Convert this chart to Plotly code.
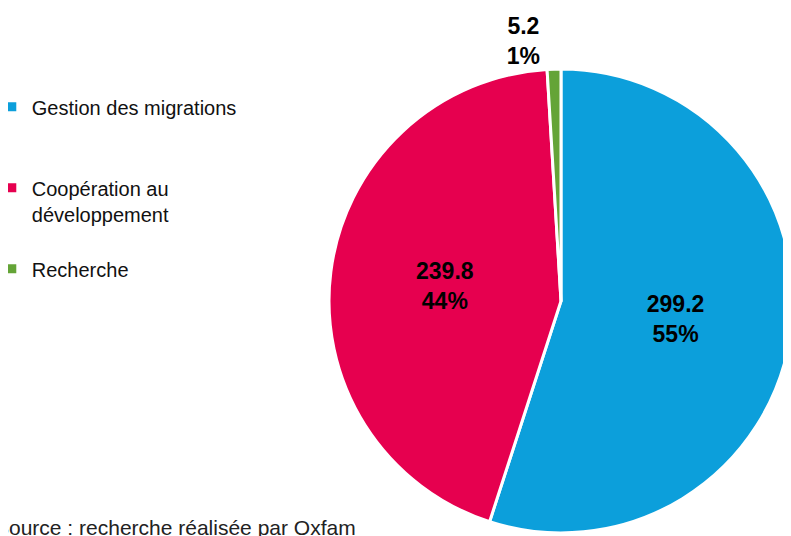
import plotly.graph_objects as go

categories = ["Gestion des migrations", "Coopération au<br>développement", "Recherche"]
values = [299.2, 239.8, 5.2]
colors = ["#0C9FDB", "#E6004F", "#64A437"]
legend_labels = [
    "Gestion des migrations<br> <br> ",
    "Coopération au<br>développement<br> ",
    "Recherche<br> <br> ",
]
source_text = "Source : recherche réalisée par Oxfam"

FONT = "Liberation Sans, Arial, sans-serif"

fig = go.Figure()
fig.add_trace(go.Pie(
    labels=legend_labels,
    values=values,
    sort=False,
    direction="clockwise",
    rotation=0,
    marker=dict(colors=colors, line=dict(color="white", width=3)),
    texttemplate="%{value}<br>%{percent:.0%}",
    textposition=["inside", "inside", "outside"],
    insidetextorientation="horizontal",
    textfont=dict(family=FONT, size=23, color="black", weight="bold"),
    hovertemplate="%{label}: %{value}<extra></extra>",
    domain=dict(x=[0.4058, 0.9924], y=[0.0206, 0.8862]),
))

fig.add_annotation(
    text=source_text, xref="paper", yref="paper",
    x=-0.019, y=0.0317, xanchor="left", yanchor="middle",
    showarrow=False, font=dict(family=FONT, size=21, color="#222222"),
)

fig.update_layout(
    width=791, height=536,
    margin=dict(l=0, r=0, t=0, b=0, autoexpand=False),
    paper_bgcolor="white", plot_bgcolor="white",
    showlegend=True,
    legend=dict(
        x=-0.0205, y=0.852, xanchor="left", yanchor="top",
        valign="top", font=dict(family=FONT, size=20, color="#111111"),
        bgcolor="rgba(0,0,0,0)",
    ),
)

fig.write_html("out.html")
